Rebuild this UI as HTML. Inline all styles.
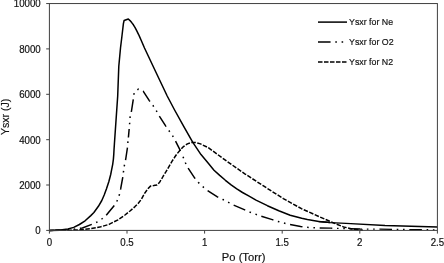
<!DOCTYPE html>
<html><head><meta charset="utf-8"><title>Ysxr vs Po</title>
<style>
html,body{margin:0;padding:0;background:#fff;}
svg{display:block;}
text{font-family:"Liberation Sans",Arial,Helvetica,sans-serif;fill:#111;stroke:#111;stroke-width:0.18;}
</style></head><body>
<svg width="444" height="263" viewBox="0 0 444 263">
<rect width="444" height="263" fill="#fff"/>
<g fill="none" stroke="#000" stroke-width="1.5" stroke-linejoin="round">
<path d="M49.4 230.4L54.1 230.25L62.3 229.8L68 229L73.7 227.4L79.4 224.5L85.1 220.8L90.8 215.6L93.9 212.5L98.4 206.3L101.8 200.5L104.2 195L106.5 188.7L108.8 181.8L109.6 178.7L110.7 174.5L111.7 169.4L112.7 164.3L113.4 159.1L113.75 154.6L114 150L114.4 144L117.7 96L118.8 66.3L120.5 48L121.9 36.5L123.4 23.7L124.1 20.5L128.3 19L130 20.6L131.7 22.6L133.4 24.8L135.1 27.7L136.8 30.9L138.5 34.3L139.9 37.4L141.05 40L144.5 48L155.7 71.7L167.2 96L174.6 110L183.7 126.4L192.8 142.4L201 154.6L208.3 163.2L214 170.2L219.7 175.4L225.4 180.3L231.1 184.9L236.8 188.9L242.5 192.5L248.2 195.7L251.7 197.6L256 200.1L267.4 205.7L278.8 210.8L290.2 215.2L301.7 218.3L307.4 219.5L318.8 221.5L330.2 222.6"/>
<path stroke-width="1.3" d="M318.8 221.5L330.2 222.6L346 223.4L385 225.5L437.4 227"/>
<path stroke-width="1.5" stroke-dasharray="12.58 4.72 1.57 4.72 1.57 4.72" stroke-dashoffset="-0.7" d="M49.4 230.4L60 230.2L70 229.6L82.4 228L94.3 223.4L98 221.6L102.5 218.5L106.2 215.2L115.3 204.3L117.7 199.7L119.5 194.2L120.7 188.7L122.8 177.2L123.4 172.3L124.3 165.9L125.6 160L127.4 148L127.9 142.2L128.15 139.5"/>
<path stroke-width="1.5" stroke-dasharray="12.58 4.72 1.57 4.72 1.57 4.72" stroke-dashoffset="4" d="M128.4 137.5L129.2 128.5L129.7 122.7L130.1 117L131.4 111.5L133.4 98.7L134.2 92.7L138.4 89.1L143.3 91.3L149.3 100.6L153 105.5L156.6 111.2L158.8 115.2L165.8 126.1L169 130.7L172.5 135.6L175.5 141L180.5 150.8"/>
<path stroke-width="1.5" stroke-dasharray="12.58 4.72 1.57 4.72 1.57 4.72" stroke-dashoffset="12.58" d="M181.1 152.4L183 156.6L185.4 162.8L187.6 167.4L194.9 178.3L198.3 182.4L202.8 186.7L207.4 190.4L217.4 196.8L222.9 199.5L228.4 202.3L233.5 205L244.8 209.9L250.3 212.3L255.4 214.1L261.2 216.3L272.3 219.6L277.8 221.4L283.3 222.9L288.7 224.2L300.6 226.4L307 227.3L312.9 227.8L318.9 228"/>
<path stroke-width="1.35" stroke-dasharray="12.58 4.72 1.57 4.72 1.57 4.72" stroke-dashoffset="178.49" d="M318.9 228L330.8 228.2L360 229"/>
<path stroke-width="1.25" stroke-dasharray="12.58 4.72 1.57 4.72 1.57 4.72" stroke-dashoffset="219.6" d="M360 229L437.4 229.8"/>
<path stroke-dasharray="4.5 1.5" stroke-dashoffset="0" d="M49.4 230.4L70 230.2L81.5 229.8L90.7 228.7L99.8 227.1L109 224.4L118 219.8L125 215L130 211L135 206.6L138.5 203L141.4 199.3L144.6 193.4L147.8 188.8L150.5 186.1L153.7 185.6L156.9 184.9L159.2 182.8L161.5 179.2L163.3 176L165.7 172.2L172.1 161.2L174.6 157.3L176.9 154L179.6 150.8L183.3 146.7L187.4 143.9L191 142.6L194 142.4L196.5 142.7L200.5 143.9L208.3 147.7L226.5 161L244.8 173.8L263.1 185.7L283.3 198.6L301.5 208.7L319.8 216.9L334.4 223.3L343.5 226.9L352 228.9L360 230L363 230.3"/>
<path d="M318 22.1H347"/>
<path d="M318 41.9H347" stroke-dasharray="12.58 4.72 1.57 4.72 1.57 4.72"/>
<path d="M318 62H347.5" stroke-dasharray="4.5 1.5"/>
</g>
<g stroke="#404040" stroke-width="1" fill="none">
<rect x="49.4" y="3.55" width="388" height="226.85"/>
<path d="M46.2 3.55H49.4M46.2 48.9H49.4M46.2 94.3H49.4M46.2 139.7H49.4M46.2 185H49.4M46.2 230.4H49.4"/>
<path d="M49.4 230.4V233.6M127 230.4V233.6M204.6 230.4V233.6M282.2 230.4V233.6M359.8 230.4V233.6M437.4 230.4V233.6"/>
</g>
<text transform="translate(349.0 25.2) scale(0.912 1)" font-size="9.7" text-anchor="start">Ysxr for Ne</text>
<text transform="translate(349.0 45.0) scale(0.912 1)" font-size="9.7" text-anchor="start">Ysxr for O2</text>
<text transform="translate(349.0 65.1) scale(0.912 1)" font-size="9.7" text-anchor="start">Ysxr for N2</text>
<text transform="translate(40.7 7.35) scale(0.96 1)" font-size="10.1" text-anchor="end">10000</text>
<text transform="translate(40.7 52.7) scale(0.96 1)" font-size="10.1" text-anchor="end">8000</text>
<text transform="translate(40.7 98.1) scale(0.96 1)" font-size="10.1" text-anchor="end">6000</text>
<text transform="translate(40.7 143.5) scale(0.96 1)" font-size="10.1" text-anchor="end">4000</text>
<text transform="translate(40.7 188.8) scale(0.96 1)" font-size="10.1" text-anchor="end">2000</text>
<text transform="translate(40.7 234.2) scale(0.96 1)" font-size="10.1" text-anchor="end">0</text>
<text transform="translate(49.4 245.75) scale(0.96 1)" font-size="10.1" text-anchor="middle">0</text>
<text transform="translate(127 245.75) scale(0.96 1)" font-size="10.1" text-anchor="middle">0.5</text>
<text transform="translate(204.6 245.75) scale(0.96 1)" font-size="10.1" text-anchor="middle">1</text>
<text transform="translate(282.2 245.75) scale(0.96 1)" font-size="10.1" text-anchor="middle">1.5</text>
<text transform="translate(359.8 245.75) scale(0.96 1)" font-size="10.1" text-anchor="middle">2</text>
<text transform="translate(437.4 245.75) scale(0.96 1)" font-size="10.1" text-anchor="middle">2.5</text>
<text transform="translate(243.6 261.05) scale(0.95 1)" font-size="11.8" text-anchor="middle">Po (Torr)</text>
<text transform="translate(8.8 116.9) rotate(-90) scale(0.896 1)" font-size="11.8" text-anchor="middle">Ysxr (J)</text>
</svg>
</body></html>
